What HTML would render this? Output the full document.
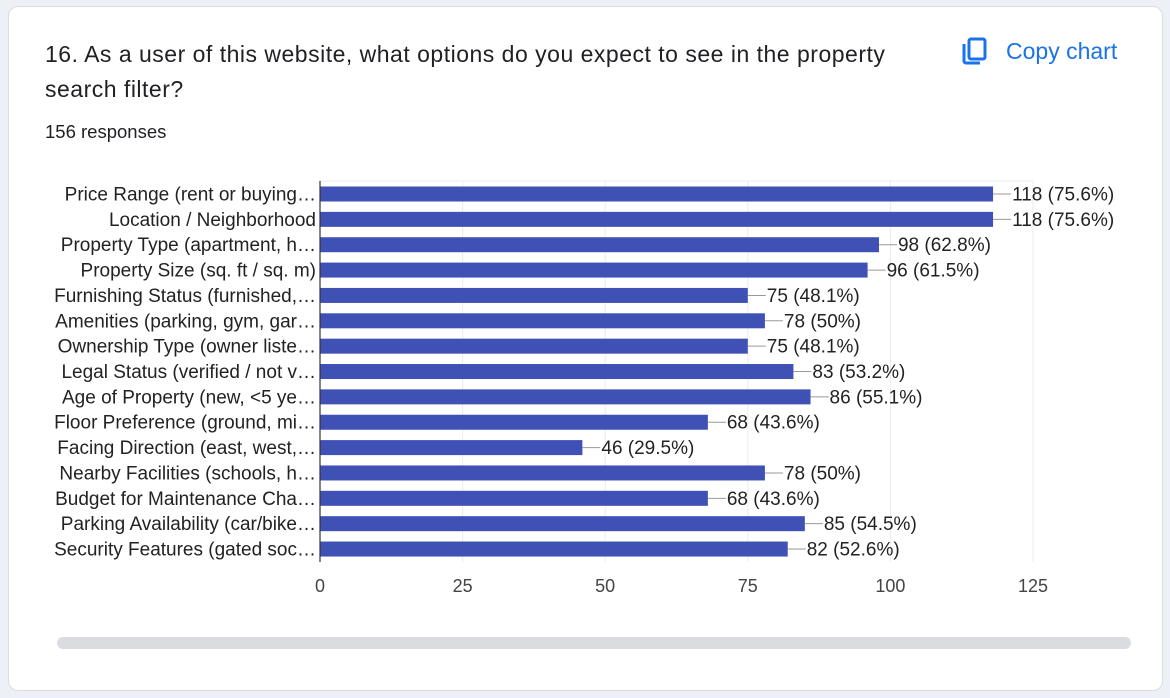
<!DOCTYPE html>
<html><head><meta charset="utf-8"><style>
body{margin:0;width:1170px;height:698px;background:#eef0f8;font-family:"Liberation Sans",Arial,sans-serif;overflow:hidden}
.card{position:absolute;left:8px;top:6px;width:1153px;height:683px;background:#fff;border:1px solid #dadce0;border-radius:10px}
.title{position:absolute;left:45px;top:37px;font-size:23px;letter-spacing:0.5px;line-height:35px;color:#202124;width:880px}
.resp{position:absolute;left:45px;top:121px;font-size:18.5px;color:#202124}
.copy{position:absolute;left:962px;top:37px;color:#1a73e8;font-size:23px;display:flex;align-items:center;gap:18px}
.scroll{position:absolute;left:57px;top:637px;width:1074px;height:12px;border-radius:6px;background:#dadce0}
svg{position:absolute;left:0;top:0}
</style></head><body>
<div class="card"></div>
<div class="title">16. As a user of this website, what options do you expect to see in the property search filter?</div>
<div class="resp">156 responses</div>
<div class="copy">
<svg style="position:static" width="26" height="28" viewBox="0 0 26 28"><rect x="7" y="2" width="16" height="20" rx="2" fill="none" stroke="#1a73e8" stroke-width="3"/><path d="M2 7v17a2 2 0 0 0 2 2h14" fill="none" stroke="#1a73e8" stroke-width="3"/></svg>
<span>Copy chart</span></div>
<div class="scroll"></div>
<svg id="chart" width="1170" height="698"></svg>
<script>
const categories=["Price Range (rent or buying…","Location / Neighborhood","Property Type (apartment, h…","Property Size (sq. ft / sq. m)","Furnishing Status (furnished,…","Amenities (parking, gym, gar…","Ownership Type (owner liste…","Legal Status (verified / not v…","Age of Property (new, <5 ye…","Floor Preference (ground, mi…","Facing Direction (east, west,…","Nearby Facilities (schools, h…","Budget for Maintenance Cha…","Parking Availability (car/bike…","Security Features (gated soc…"];
const values=[118,118,98,96,75,78,75,83,86,68,46,78,68,85,82];
const percents=["75.6%","75.6%","62.8%","61.5%","48.1%","50%","48.1%","53.2%","55.1%","43.6%","29.5%","50%","43.6%","54.5%","52.6%"];
const ticks=[0,25,50,75,100,125];
const NS="http://www.w3.org/2000/svg",svg=document.getElementById('chart');
const x0=320,x1=1033,yTop=181,yBot=562,maxV=125,step=25.36,firstC=194;
const X=v=>x0+(v/maxV)*(x1-x0);
const Y=i=>firstC+i*step;
function mk(t,a,txt){const e=document.createElementNS(NS,t);for(const k in a)e.setAttribute(k,a[k]);if(txt!=null)e.textContent=txt;svg.appendChild(e);return e;}
ticks.forEach(t=>{
 if(t>0){const g=mk('line',{x1:X(t),x2:X(t),y1:yTop,y2:yBot,stroke:'#ebebeb'});
 
 }
 const l=mk('text',{x:X(t),y:592,'text-anchor':'middle','font-size':18,fill:'#444'},String(t));
 
 
});
mk('line',{x1:x0,x2:x1,y1:yTop,y2:yTop,stroke:'#ebebeb'});
categories.forEach((c,i)=>{
 const cy=Y(i);
 const b=mk('rect',{x:x0,y:cy-7.5,width:X(values[i])-x0,height:15,fill:'#3f51b5'});
 
 
 mk('line',{x1:X(values[i]),x2:X(values[i])+18,y1:cy,y2:cy,stroke:'#999'});
 const v=mk('text',{x:X(values[i])+19,y:cy+6.5,'font-size':19,fill:'#222'},values[i]+' ('+percents[i]+')');
 
 
 const t=mk('text',{x:316,y:cy+6.5,'text-anchor':'end','font-size':19,fill:'#222'},c);
 
 
});
const ax=mk('line',{x1:x0,x2:x0,y1:yTop,y2:yBot,stroke:'#333','stroke-width':1.2});


</script>
</body></html>
